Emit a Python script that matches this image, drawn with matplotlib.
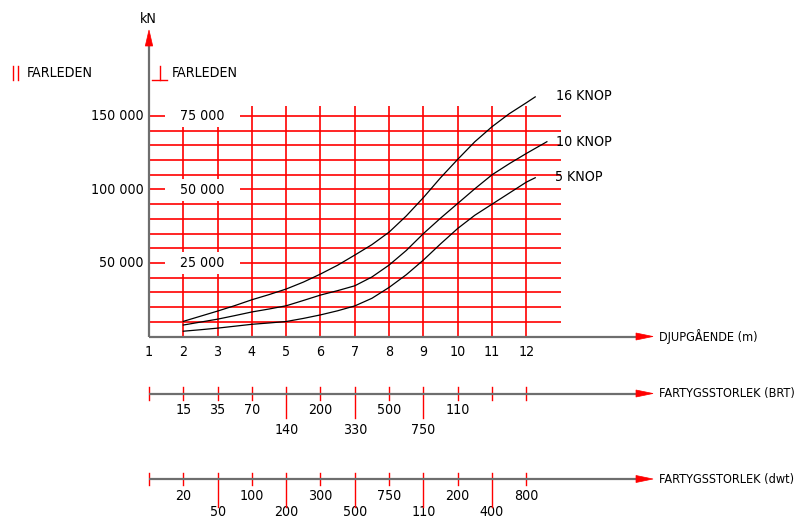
import matplotlib
matplotlib.use("Agg")
import matplotlib.pyplot as plt
from matplotlib import font_manager as fm
from matplotlib.patches import Polygon, Rectangle

# ---------------- data ----------------
depth_ticks = [1, 2, 3, 4, 5, 6, 7, 8, 9, 10, 11, 12]
depth_labels = ["1", "2", "3", "4", "5", "6", "7", "8", "9", "10", "11", "12"]

x_16 = [2, 2.5, 3, 3.5, 4, 4.5, 5, 5.5, 6, 6.5, 7, 7.5, 8, 8.5, 9, 9.5, 10, 10.5, 11, 11.5, 12, 12.26]
kn_16 = [10300, 13800, 17300, 21000, 25000, 28500, 32300, 37000, 42500, 48500, 55400, 62500,
         71000, 82000, 94500, 108000, 120500, 132500, 142700, 151500, 159000, 163000]

x_10 = [2, 2.5, 3, 3.5, 4, 4.5, 5, 5.5, 6, 6.5, 7, 7.5, 8, 8.5, 9, 9.5, 10, 10.5, 11, 11.5, 12, 12.6]
kn_10 = [7800, 9800, 11800, 14200, 16700, 18700, 20900, 24500, 28200, 31200, 34500, 40500,
         48600, 58500, 70000, 80500, 90500, 100500, 110000, 117500, 124500, 132500]

x_5 = [2, 2.5, 3, 3.5, 4, 4.5, 5, 5.5, 6, 6.5, 7, 7.5, 8, 8.5, 9, 9.5, 10, 10.5, 11, 11.5, 12, 12.26]
kn_5 = [3600, 4600, 5700, 7000, 8300, 9200, 10200, 12300, 14700, 17500, 20800, 26000,
        33400, 42000, 52000, 63000, 73500, 82500, 90000, 97500, 105000, 108000]

series_names = ["16 KNOP", "10 KNOP", "5 KNOP"]

grid_y = [10000, 20000, 30000, 40000, 50000, 60000, 70000, 80000, 90000, 100000,
          110000, 120000, 130000, 140000, 150000]
left_values = [50000, 100000, 150000]
left_labels = ["50 000", "100 000", "150 000"]
perp_labels = ["25 000", "50 000", "75 000"]

brt_labels = ["", "15", "35", "70", "140", "200", "330", "500", "750", "110", "", ""]
brt_lower = [5, 7, 9]
dwt_labels = ["", "20", "50", "100", "200", "300", "500", "750", "110", "200", "400", "800"]
dwt_lower = [3, 5, 7, 9, 11]

# ---------------- font choice (narrowest available) ----------------
names = {f.name for f in fm.fontManager.ttflist}
font_kw = {}
if "Liberation Sans Narrow" in names:
    font_kw = dict(family="Liberation Sans Narrow")
else:
    cond = [f.fname for f in fm.fontManager.ttflist
            if f.name == "DejaVu Sans" and "Condensed" in f.fname
            and "Bold" not in f.fname and "Oblique" not in f.fname]
    if cond:
        font_kw = dict(fontproperties=fm.FontProperties(fname=cond[0]))
    else:
        font_kw = dict(family="Liberation Sans")

# ---------------- layout helpers (pixel -> data) ----------------
PX0, UNIT = 149.0, 34.3
PY0, KPP = 336.5, 1.47  # pixels per 1000 kN


def X(px):
    return 1 + (px - PX0) / UNIT


def Y(py):
    return (PY0 - py) / KPP * 1000.0


RED = "#ff0000"
GRAY = "#6e6e6e"

fig = plt.figure(figsize=(7.97, 5.18), dpi=100)
ax = fig.add_axes([0, 0, 1, 1])
ax.set_xlim(X(0), X(797))
ax.set_ylim(Y(518), Y(0))
ax.axis("off")

renderer = fig.canvas.get_renderer()


def fit_size(sample, target_px, lo, hi):
    t = ax.text(0, 0, sample, fontsize=10, **font_kw)
    w = t.get_window_extent(renderer).width
    t.remove()
    return max(lo, min(hi, 10.0 * target_px / w))


FS_NUM = fit_size("150 000", 53, 8, 11.5)
FS_WORD = fit_size("FARLEDEN", 66, 8, 11.5)
FS_AX = min(FS_WORD, fit_size("FARTYGSSTORLEK (BRT)", 137, 7, 11.5))


def txt(x, y, s, fs, **kw):
    ax.text(x, y, s, fontsize=fs, **font_kw, **kw)


# grid
for xv in depth_ticks[1:]:
    ax.plot([xv, xv], [0, Y(106)], color=RED, lw=1.2, zorder=1, solid_capstyle="butt")
for yv in grid_y:
    ax.plot([1, 13], [yv, yv], color=RED, lw=1.2, zorder=1, solid_capstyle="butt")

# white boxes behind perpendicular labels + labels
for v, lab in zip(left_values, perp_labels):
    ax.add_patch(Rectangle((X(165), v - 11 * 1000 / KPP), X(240) - X(165), 22 * 1000 / KPP,
                           facecolor="white", edgecolor="none", zorder=2))
    txt(X(202.5), v, lab, FS_NUM, ha="center", va="center", zorder=3)
for v, lab in zip(left_values, left_labels):
    txt(X(144), v, lab, FS_NUM, ha="right", va="center", zorder=3)

# curves
for xs, ys, name, lx, ly in [(x_16, kn_16, series_names[0], 556, 96.5),
                             (x_10, kn_10, series_names[1], 556, 141.5),
                             (x_5, kn_5, series_names[2], 555, 177)]:
    ax.plot(xs, ys, color="black", lw=0.9, zorder=4)
    txt(X(lx), Y(ly), name, FS_WORD, ha="left", va="center")

# y axis
ax.plot([1, 1], [0, Y(46)], color=GRAY, lw=1.6, zorder=5, solid_capstyle="butt")
ax.add_patch(Polygon([(1, Y(30)), (X(145.3), Y(46)), (X(152.7), Y(46))],
                     closed=True, facecolor=RED, edgecolor=RED, lw=0.5, zorder=6))
txt(X(148.5), Y(19.5), "kN", FS_WORD, ha="center", va="center")


# horizontal axes
def haxis(py, label):
    yv = Y(py)
    ax.plot([1, X(637)], [yv, yv], color=GRAY, lw=1.6, zorder=5, solid_capstyle="butt")
    ax.add_patch(Polygon([(X(653), yv), (X(636), Y(py - 3.5)), (X(636), Y(py + 3.5))],
                         closed=True, facecolor=RED, edgecolor=RED, lw=0.5, zorder=6))
    txt(X(659), yv, label, FS_AX, ha="left", va="center")


haxis(PY0, "DJUPGÅENDE (m)")
haxis(393.5, "FARTYGSSTORLEK (BRT)")
haxis(479, "FARTYGSSTORLEK (dwt)")

for xv, lab in zip(depth_ticks, depth_labels):
    txt(xv, Y(352.5), lab, FS_NUM, ha="center", va="center")

# BRT scale
for xv, lab in zip(depth_ticks, brt_labels):
    low = xv in brt_lower
    ax.plot([xv, xv], [Y(387), Y(418 if low else 399.5)], color=RED, lw=1.0, zorder=4)
    if lab:
        txt(xv, Y(429.5 if low else 410.5), lab, FS_NUM, ha="center", va="center")

# dwt scale
for xv, lab in zip(depth_ticks, dwt_labels):
    low = xv in dwt_lower
    ax.plot([xv, xv], [Y(472.5), Y(507 if low else 485)], color=RED, lw=1.0, zorder=4)
    if lab:
        txt(xv, Y(512.5 if low else 495.5), lab, FS_NUM, ha="center", va="center")

# orientation legend
ax.plot([X(13), X(13)], [Y(66.5), Y(79.5)], color=RED, lw=1.0)
ax.plot([X(18.5), X(18.5)], [Y(66.5), Y(79.5)], color=RED, lw=1.0)
txt(X(27), Y(73), "FARLEDEN", FS_WORD, ha="left", va="center")
ax.plot([X(152.5), X(167)], [Y(79.5), Y(79.5)], color=RED, lw=1.0)
ax.plot([X(160), X(160)], [Y(66.5), Y(79.5)], color=RED, lw=1.0)
txt(X(172), Y(73), "FARLEDEN", FS_WORD, ha="left", va="center")

fig.savefig("out.png", dpi=100)
